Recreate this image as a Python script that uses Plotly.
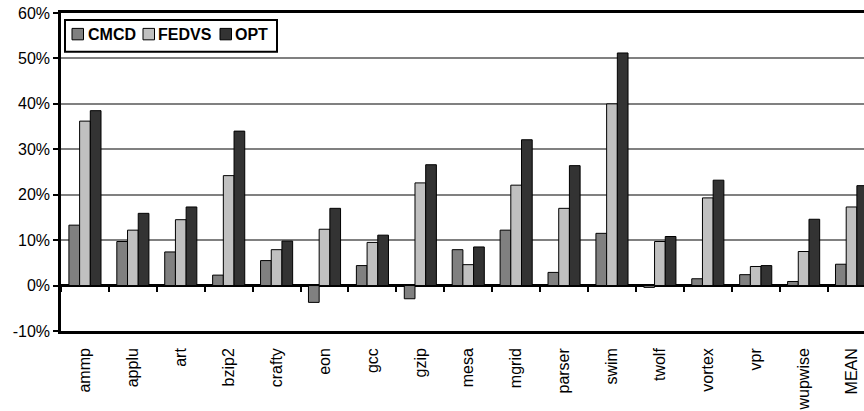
import plotly.graph_objects as go

# Benchmarks on the x axis
benchmarks = ["ammp", "applu", "art", "bzip2", "crafty", "eon", "gcc", "gzip",
              "mesa", "mgrid", "parser", "swim", "twolf", "vortex", "vpr",
              "wupwise", "MEAN"]

# Improvement (%) per scheme
cmcd = [13.3, 9.7, 7.4, 2.3, 5.5, -3.7, 4.4, -2.9, 7.9, 12.2, 2.9, 11.5,
        -0.4, 1.5, 2.4, 0.9, 4.7]
fedvs = [36.2, 12.2, 14.5, 24.2, 7.9, 12.4, 9.5, 22.6, 4.6, 22.1, 17.0, 40.0,
         9.7, 19.3, 4.2, 7.5, 17.3]
opt = [38.5, 15.9, 17.3, 34.0, 9.8, 17.0, 11.1, 26.6, 8.5, 32.1, 26.4, 51.2,
       10.8, 23.2, 4.4, 14.6, 22.0]

series_names = ["CMCD", "FEDVS", "OPT"]
series_values = [cmcd, fedvs, opt]
series_colors = ["#808080", "#c0c0c0", "#333333"]

y_ticks = [-10, 0, 10, 20, 30, 40, 50, 60]
y_tick_labels = ["-10%", "0%", "10%", "20%", "30%", "40%", "50%", "60%"]

FONT = "Liberation Sans, Arial, sans-serif"

fig = go.Figure()
for name, vals, col in zip(series_names, series_values, series_colors):
    fig.add_trace(go.Bar(
        x=benchmarks, y=vals, name=name,
        marker=dict(color=col, line=dict(color="black", width=1)),
        showlegend=False,
    ))

# helper trace so the zero-line tick axis is drawn
fig.add_trace(go.Scatter(x=benchmarks, y=[None] * len(benchmarks),
                         xaxis="x2", mode="markers", showlegend=False,
                         hoverinfo="skip"))

x_range = [-0.5, 16.26]

fig.update_layout(
    width=864, height=411,
    margin=dict(l=61, r=0, t=13, b=78),
    paper_bgcolor="white", plot_bgcolor="white",
    font=dict(family=FONT, size=16, color="black"),
    barmode="group", bargap=0.33, bargroupgap=0,
    xaxis=dict(
        type="category", categoryorder="array", categoryarray=benchmarks,
        range=x_range, showline=True, linecolor="black", linewidth=2.5,
        mirror=True, ticks="outside", ticklen=8,
        tickcolor="rgba(0,0,0,0)", tickangle=-90, showgrid=False,
        tickfont=dict(size=16),
    ),
    xaxis2=dict(
        type="category", categoryorder="array", categoryarray=benchmarks,
        range=x_range, overlaying="x", anchor="free", position=1 / 7,
        tickson="boundaries", ticks="outside", ticklen=5, tickwidth=2,
        tickcolor="black", showticklabels=False, showgrid=False,
        showline=False, zeroline=False,
    ),
    yaxis=dict(
        range=[-10, 60], tickvals=y_ticks, ticktext=y_tick_labels,
        showline=True, linecolor="black", linewidth=2.5,
        ticks="outside", ticklen=5, tickwidth=1.5, tickcolor="black",
        showgrid=True, gridcolor="#808080", gridwidth=1.8,
        zeroline=True, zerolinecolor="black", zerolinewidth=2.5,
        tickfont=dict(size=16),
    ),
)

# legend box drawn in the upper-left corner of the plot
plot_w, plot_h = 864 - 61, 411 - 13 - 78


def px_x(p):
    return (p - 61) / plot_w


def px_y(p):
    return (411 - 78 - p) / plot_h


fig.add_shape(type="rect", xref="paper", yref="paper",
              x0=px_x(65), x1=px_x(277), y0=px_y(52), y1=px_y(20),
              line=dict(color="black", width=2), fillcolor="white", layer="above")

swatch_left = [72, 143, 220]
text_left = [86, 156, 233]
for name, col, sx, tx in zip(series_names, series_colors, swatch_left, text_left):
    fig.add_shape(type="rect", xref="paper", yref="paper",
                  x0=px_x(sx), x1=px_x(sx + 11.5), y0=px_y(40), y1=px_y(28.5),
                  line=dict(color="black", width=1), fillcolor=col, layer="above")
    fig.add_annotation(text="<b>%s</b>" % name, xref="paper", yref="paper",
                       x=px_x(tx), y=px_y(34.5), xanchor="left", yanchor="middle",
                       showarrow=False, font=dict(size=16, family=FONT, color="black"))

fig.write_html("out.html")
